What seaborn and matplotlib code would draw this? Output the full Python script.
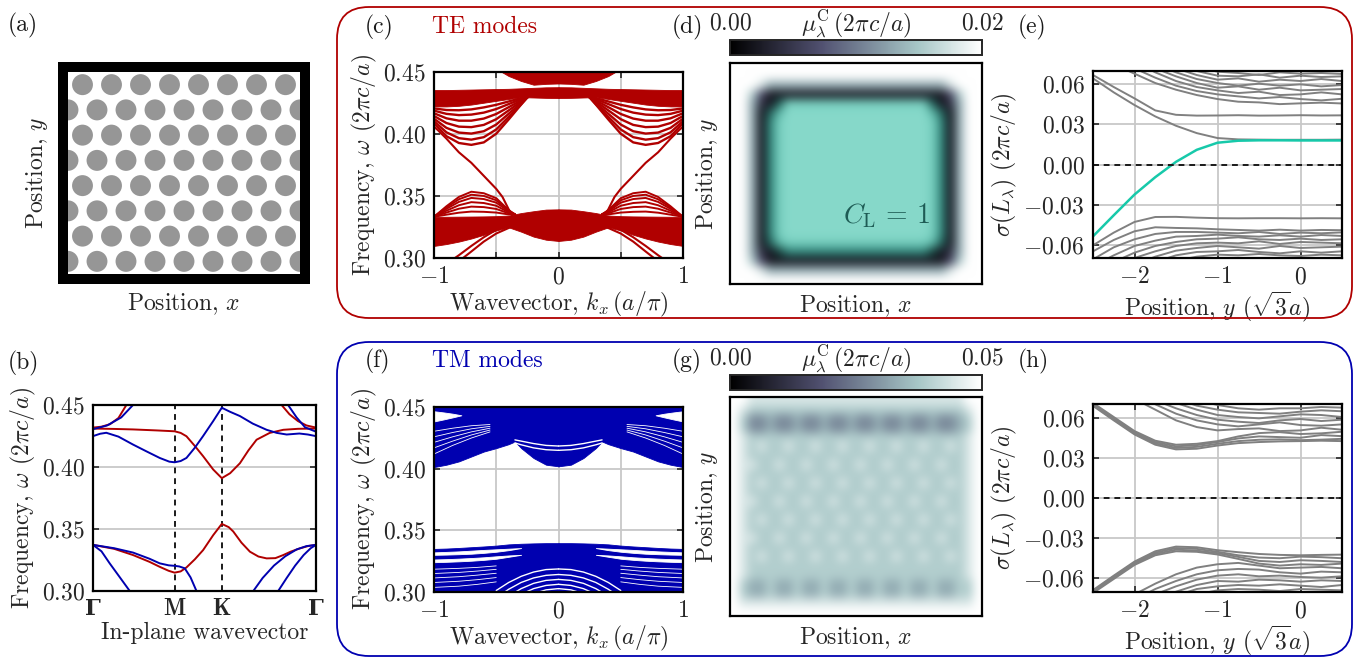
import numpy as np
import pandas as pd
import matplotlib.pyplot as plt
import seaborn as sns
from matplotlib.patches import Circle, FancyBboxPatch
from matplotlib.colors import LinearSegmentedColormap, Normalize
from matplotlib.cm import ScalarMappable

# %%
# ---------------- data ----------------
RED = "#b00000"
BLUE = "#0000b0"
TEAL = "#17c9aa"
GRAY = "#808080"

# (a) lattice
n_rows, n_cols = 8, 8
hole_radius = 0.36

# (b) bulk bands along Gamma-M-K-Gamma (path length units)
bz_ticks = [0.0, 0.5774, 0.9107, 1.5774]
bz_labels = ["Γ", r"$\mathbf{M}$", r"$\mathbf{K}$", "Γ"]

te_low_x = [0, 0.15, 0.283, 0.40, 0.472, 0.535, 0.577, 0.62, 0.661, 0.72, 0.779, 0.85, 0.911,
            0.96, 0.992, 1.05, 1.11, 1.17, 1.228, 1.29, 1.346, 1.40, 1.464, 1.52, 1.577]
te_low_y = [0.3372, 0.334, 0.329, 0.3235, 0.3195, 0.3163, 0.3148, 0.3158, 0.319, 0.3255, 0.333,
            0.345, 0.3541, 0.3515, 0.348, 0.339, 0.3317, 0.3278, 0.3263, 0.3265, 0.329, 0.3318,
            0.3344, 0.3362, 0.3372]
te_up_x = [0, 0.15, 0.283, 0.45, 0.577, 0.62, 0.661, 0.72, 0.779, 0.85, 0.911, 0.97, 1.039,
           1.10, 1.157, 1.25, 1.346, 1.45, 1.577]
te_up_y = [0.431, 0.4307, 0.4303, 0.4295, 0.4288, 0.4275, 0.4248, 0.417, 0.4087, 0.398, 0.391,
           0.395, 0.403, 0.4135, 0.422, 0.4275, 0.430, 0.4308, 0.431]
te_topl_x = [0, 0.06, 0.12, 0.18, 0.236, 0.26]
te_topl_y = [0.4318, 0.4325, 0.4345, 0.4395, 0.45, 0.455]
te_topr_x = [1.31, 1.334, 1.39, 1.45, 1.51, 1.577]
te_topr_y = [0.454, 0.45, 0.4425, 0.437, 0.4335, 0.4318]

tm_up_x = [0, 0.05, 0.094, 0.18, 0.283, 0.38, 0.472, 0.54, 0.577, 0.62, 0.661, 0.72, 0.779,
           0.85, 0.911, 0.97, 1.039, 1.13, 1.228, 1.30, 1.37, 1.46, 1.52, 1.577]
tm_up_y = [0.4249, 0.4268, 0.4276, 0.4245, 0.4181, 0.4125, 0.4073, 0.4043, 0.4038, 0.4048,
           0.4073, 0.4155, 0.425, 0.437, 0.4478, 0.4445, 0.4411, 0.435, 0.430, 0.4275, 0.4262,
           0.427, 0.4262, 0.4249]
tm_low_x = [0, 0.15, 0.283, 0.40, 0.472, 0.535, 0.577, 0.61, 0.649, 0.69, 0.732, 0.76]
tm_low_y = [0.3372, 0.3345, 0.331, 0.326, 0.3223, 0.3207, 0.3203, 0.3198, 0.3183, 0.311, 0.30, 0.292]
tm_gl_x = [0, 0.06, 0.118, 0.19, 0.26, 0.29]
tm_gl_y = [0.3372, 0.332, 0.3223, 0.311, 0.30, 0.295]
tm_r1_x = [1.10, 1.134, 1.20, 1.28, 1.36, 1.44, 1.51, 1.577]
tm_r1_y = [0.2945, 0.30, 0.3105, 0.3205, 0.328, 0.3335, 0.3362, 0.3372]
tm_r2_x = [1.28, 1.31, 1.37, 1.43, 1.49, 1.54, 1.577]
tm_r2_y = [0.2955, 0.30, 0.3105, 0.3205, 0.329, 0.3345, 0.3372]
tm_topl_x = [0, 0.1, 0.2, 0.283, 0.31]
tm_topl_y = [0.4305, 0.4335, 0.440, 0.45, 0.453]
tm_topr_x = [1.36, 1.38, 1.44, 1.50, 1.577]
tm_topr_y = [0.455, 0.45, 0.440, 0.432, 0.4285]

# (c) TE ribbon bands, k >= 0 (bands are symmetric in k)
kc = [0, 0.1, 0.2, 0.3, 0.4, 0.5, 0.6, 0.7, 0.8, 0.9, 1.0]
te_blk_top = [0.4375, 0.4374, 0.4370, 0.4366, 0.4362, 0.4360, 0.4358, 0.4356, 0.4354, 0.4352, 0.4352]
te_blk_bot = [0.4288, 0.4289, 0.4292, 0.4295, 0.4280, 0.4265, 0.4250, 0.4235, 0.4225, 0.4220, 0.4220]
kt = [0, 0.1, 0.2, 0.3, 0.4, 0.46]
te_top_lo = [0.4405, 0.4402, 0.4395, 0.4425, 0.4465, 0.4500]
kfan = [0.25, 0.3, 0.4, 0.5, 0.6, 0.7, 0.8, 0.9, 1.0]
te_fan_lo = [0.4293, 0.4235, 0.4115, 0.4000, 0.3930, 0.3910, 0.3925, 0.3980, 0.4083]
te_fan_lines = [
    [0.4293, 0.4287, 0.4260, 0.4233, 0.4212, 0.4196, 0.4189, 0.4191, 0.4204],
    [0.4293, 0.4279, 0.4239, 0.4199, 0.4170, 0.4154, 0.4150, 0.4160, 0.4186],
    [0.4293, 0.4269, 0.4214, 0.4159, 0.4122, 0.4105, 0.4105, 0.4124, 0.4165],
    [0.4293, 0.4259, 0.4188, 0.4117, 0.4071, 0.4053, 0.4057, 0.4086, 0.4143],
    [0.4293, 0.4248, 0.4161, 0.4074, 0.4020, 0.4001, 0.4009, 0.4047, 0.4121],
    [0.4293, 0.4238, 0.4136, 0.4034, 0.3972, 0.3952, 0.3964, 0.4011, 0.4101],
]
ke = [0.37, 0.4, 0.45, 0.5, 0.6, 0.7, 0.8, 0.9, 0.97, 1.0]
te_edge = [0.334, 0.339, 0.349, 0.3555, 0.366, 0.3765, 0.385, 0.396, 0.403, 0.4056]
te_lo_top = [0.3390, 0.3388, 0.3375, 0.3360, 0.3340, 0.3335, 0.3333, 0.3332, 0.3331, 0.3330, 0.3330]
te_lo_bot = [0.3135, 0.3145, 0.3170, 0.3210, 0.3245, 0.3220, 0.3185, 0.3155, 0.3130, 0.3110, 0.3095]
klf = [0.35, 0.4, 0.5, 0.6, 0.7, 0.8, 0.9, 1.0]
te_lfan_lines = [
    [0.3350, 0.3349, 0.3364, 0.3370, 0.3372, 0.3363, 0.3347, 0.3330],
    [0.3350, 0.3358, 0.3393, 0.3408, 0.3412, 0.3395, 0.3364, 0.3330],
    [0.3350, 0.3366, 0.3419, 0.3441, 0.3448, 0.3423, 0.3379, 0.3330],
    [0.3350, 0.3373, 0.3444, 0.3473, 0.3482, 0.3450, 0.3394, 0.3330],
    [0.3350, 0.3379, 0.3463, 0.3498, 0.3508, 0.3471, 0.3405, 0.3330],
    [0.3350, 0.3384, 0.3480, 0.3520, 0.3532, 0.3490, 0.3415, 0.3330],
]
ka1 = [0.42, 0.5, 0.6, 0.7, 0.8, 0.85]
te_arc1 = [0.3263, 0.3225, 0.3165, 0.3095, 0.3020, 0.2985]
ka2 = [0.39, 0.5, 0.6, 0.7, 0.77, 0.8]
te_arc2 = [0.3244, 0.3195, 0.3130, 0.3050, 0.2995, 0.2970]

# (f) TM ribbon bands, k >= 0
kfm = [0, 0.1, 0.2, 0.3, 0.35, 0.4, 0.5, 0.6, 0.7, 0.8, 0.9, 1.0]
tm_up_bot = [0.4020, 0.4033, 0.4087, 0.4168, 0.4222, 0.4200, 0.4168, 0.4140, 0.4100, 0.4060, 0.4033, 0.4014]
kw = [0.78, 0.85, 0.92, 1.0]
tm_wedge_lo = [0.4435, 0.4418, 0.4402, 0.4385]
tm_wedge_hi = [0.4435, 0.4448, 0.4458, 0.4468]
kar = [0, 0.1, 0.2, 0.3, 0.35]
tm_gap_arcs = [
    [0.4185, 0.4190, 0.4205, 0.4225, 0.4235],
    [0.4150, 0.4155, 0.4170, 0.4195, 0.4210],
]
kst = [0.55, 0.7, 0.85, 1.0]
tm_up_streaks = [
    [0.4300, 0.4250, 0.4190, 0.4120],
    [0.4315, 0.4275, 0.4225, 0.4170],
    [0.4330, 0.4300, 0.4260, 0.4215],
    [0.4345, 0.4325, 0.4295, 0.4260],
    [0.4360, 0.4350, 0.4330, 0.4305],
]
tm_lo_top = [0.3395, 0.3395, 0.3393, 0.3390, 0.3385, 0.3375, 0.3368, 0.3362, 0.3356, 0.3351, 0.3348]
kg = [0.3, 0.4, 0.5, 0.6, 0.7, 0.8, 0.9, 1.0]
tm_g1_lo = [0.3355, 0.3338, 0.3325, 0.3316, 0.3309, 0.3305, 0.3302, 0.3300]
tm_g1_hi = [0.3355, 0.3350, 0.3345, 0.3340, 0.3334, 0.3328, 0.3324, 0.3320]
tm_g2_lo = [0.3300, 0.3284, 0.3268, 0.3259, 0.3252, 0.3247, 0.3243, 0.3240]
tm_g2_hi = [0.3300, 0.3295, 0.3288, 0.3280, 0.3274, 0.3269, 0.3265, 0.3262]
kb = [0, 0.1, 0.2, 0.3, 0.4, 0.5]
tm_bottom_arcs = [
    [0.3185, 0.3180, 0.3160, 0.3125, 0.3075, 0.3010],
    [0.3140, 0.3133, 0.3112, 0.3075, 0.3020, 0.2950],
    [0.3100, 0.3092, 0.3068, 0.3025, 0.2965, 0.2890],
    [0.3060, 0.3051, 0.3025, 0.2980, 0.2915, 0.2830],
    [0.3025, 0.3015, 0.2985, 0.2935, 0.2870, 0.2790],
]
kls = [0.5, 0.65, 0.8, 1.0]
tm_lo_streaks = [
    [0.3080, 0.3060, 0.3045, 0.3035],
    [0.3115, 0.3098, 0.3085, 0.3075],
    [0.3150, 0.3135, 0.3122, 0.3112],
    [0.3182, 0.3168, 0.3157, 0.3148],
    [0.3210, 0.3198, 0.3190, 0.3183],
]

# (d), (g) local gap maps: digit = C_L 0 (bone level 0..9), letter = C_L 1 (teal level a..j)
te_map_max = 0.02
te_map_rows = [
    "9" * 28,
    "9" * 28,
    "9998" + "6" * 20 + "8999",
    "9973" + "1" * 20 + "3799",
    "9962" + "1d" + "h" * 16 + "d1" + "2699",
    "9961d" + "g" + "i" * 16 + "g" + "d1699",
    "9961eh" + "i" * 16 + "he1699",
    "9961eh" + "i" * 16 + "he1699",
    "9961eh" + "i" * 16 + "he1699",
    "9961eh" + "i" * 16 + "he1699",
    "9961eh" + "i" * 16 + "he1699",
    "9961eh" + "i" * 16 + "he1699",
    "9961eh" + "i" * 16 + "he1699",
    "9961eh" + "i" * 16 + "he1699",
    "9961eh" + "i" * 16 + "he1699",
    "9961eh" + "i" * 16 + "he1699",
    "9961eh" + "i" * 16 + "he1699",
    "9961eh" + "i" * 16 + "he1699",
    "9961eh" + "i" * 16 + "he1699",
    "9961dg" + "h" * 16 + "gd1699",
    "9962" + "1c" + "e" * 16 + "c1" + "2699",
    "9973" + "1" * 20 + "3799",
    "9998" + "6" * 20 + "8999",
    "9" * 28,
]
tm_map_max = 0.05
tm_map_rows = [
    "99" + "8" * 24 + "99",
    "98" + "7" * 24 + "89",
    "97" + "556" * 7 + "55" + "679",
    "97" + "556" * 7 + "55" + "679",
    "98" + "7" * 24 + "89",
    "98" + "787" * 8 + "89",
    "98" + "7" * 24 + "89",
    "98" + "877" * 8 + "89",
    "98" + "7" * 24 + "89",
    "98" + "787" * 8 + "89",
    "98" + "7" * 24 + "89",
    "98" + "877" * 8 + "89",
    "98" + "7" * 24 + "89",
    "98" + "787" * 8 + "89",
    "98" + "7" * 24 + "89",
    "98" + "877" * 8 + "89",
    "98" + "7" * 24 + "89",
    "98" + "787" * 8 + "89",
    "98" + "7" * 24 + "89",
    "98" + "7" * 24 + "89",
    "97" + "667" * 8 + "79",
    "97" + "667" * 8 + "79",
    "98" + "8" * 24 + "89",
    "99" + "9" * 24 + "99",
]

# (e), (h) spectral localizer vs position
ys = [-2.5, -2.25, -2.0, -1.75, -1.5, -1.25, -1.0, -0.75, -0.5, -0.25, 0.0, 0.25, 0.5]
te_teal = [-0.0538, -0.038, -0.0225, -0.0095, 0.002, 0.011, 0.0163, 0.0178, 0.0181, 0.0181, 0.018, 0.018, 0.018]
te_sig = [
    [0.0645, 0.054, 0.0445, 0.036, 0.029, 0.0235, 0.0198, 0.0188, 0.0186, 0.0185, 0.0185, 0.0185, 0.0186],
    [0.067, 0.058, 0.0495, 0.0405, 0.0372, 0.0366, 0.0367, 0.0369, 0.0366, 0.0367, 0.0369, 0.0367, 0.0368],
    [0.08, 0.075, 0.068, 0.061, 0.056, 0.052, 0.049, 0.047, 0.0465, 0.0452, 0.0458, 0.0463, 0.0457],
    [0.085, 0.08, 0.072, 0.065, 0.059, 0.055, 0.0525, 0.051, 0.0495, 0.0505, 0.049, 0.048, 0.0492],
    [0.09, 0.085, 0.077, 0.069, 0.0625, 0.058, 0.0555, 0.0535, 0.0545, 0.052, 0.0525, 0.054, 0.0525],
    [0.095, 0.088, 0.079, 0.072, 0.066, 0.061, 0.0575, 0.0585, 0.056, 0.0575, 0.0555, 0.056, 0.0565],
    [0.10, 0.092, 0.083, 0.075, 0.069, 0.064, 0.061, 0.059, 0.0605, 0.059, 0.060, 0.0585, 0.0595],
    [0.105, 0.097, 0.088, 0.079, 0.072, 0.067, 0.0635, 0.0645, 0.062, 0.0635, 0.0625, 0.064, 0.0625],
    [0.11, 0.10, 0.092, 0.083, 0.076, 0.070, 0.0665, 0.066, 0.0675, 0.065, 0.0665, 0.0655, 0.066],
    [0.115, 0.105, 0.096, 0.087, 0.079, 0.073, 0.0695, 0.0685, 0.067, 0.069, 0.068, 0.0685, 0.0678],
    [-0.0605, -0.051, -0.043, -0.0393, -0.0392, -0.0398, -0.0402, -0.0403, -0.0402, -0.0402, -0.0403, -0.0402, -0.0403],
    [-0.065, -0.0565, -0.050, -0.047, -0.0475, -0.0478, -0.0485, -0.049, -0.0495, -0.0488, -0.0495, -0.049, -0.0492],
    [-0.071, -0.062, -0.056, -0.052, -0.0505, -0.0505, -0.051, -0.0515, -0.0505, -0.052, -0.051, -0.0515, -0.0508],
    [-0.076, -0.068, -0.061, -0.057, -0.054, -0.0535, -0.0525, -0.0535, -0.054, -0.053, -0.054, -0.0528, -0.0535],
    [-0.081, -0.073, -0.066, -0.061, -0.058, -0.056, -0.0555, -0.0545, -0.056, -0.0565, -0.0555, -0.0565, -0.056],
    [-0.086, -0.078, -0.070, -0.065, -0.061, -0.059, -0.0585, -0.059, -0.0575, -0.0595, -0.058, -0.0585, -0.059],
    [-0.091, -0.083, -0.075, -0.069, -0.0645, -0.0625, -0.061, -0.062, -0.063, -0.061, -0.0625, -0.062, -0.0615],
    [-0.096, -0.088, -0.079, -0.073, -0.068, -0.0655, -0.065, -0.064, -0.0655, -0.0665, -0.065, -0.066, -0.065],
    [-0.10, -0.092, -0.083, -0.077, -0.072, -0.069, -0.0675, -0.068, -0.067, -0.068, -0.0685, -0.0675, -0.068],
]
tm_sig = [
    [0.0688, 0.058, 0.0475, 0.0398, 0.0363, 0.0368, 0.0392, 0.041, 0.0418, 0.0423, 0.0425, 0.0428, 0.0425],
    [0.0695, 0.0588, 0.0484, 0.0408, 0.0374, 0.0382, 0.0405, 0.0425, 0.0435, 0.0438, 0.0432, 0.0436, 0.0442],
    [0.0702, 0.0596, 0.0492, 0.0418, 0.0386, 0.0395, 0.0418, 0.0445, 0.046, 0.0455, 0.045, 0.047, 0.0462],
    [0.071, 0.0605, 0.050, 0.0428, 0.0398, 0.0405, 0.0425, 0.046, 0.0485, 0.0492, 0.0478, 0.0483, 0.0495],
    [0.09, 0.082, 0.074, 0.066, 0.058, 0.053, 0.0505, 0.0515, 0.052, 0.050, 0.0505, 0.0525, 0.051],
    [0.095, 0.086, 0.078, 0.070, 0.063, 0.058, 0.055, 0.0535, 0.055, 0.0565, 0.0545, 0.054, 0.055],
    [0.10, 0.09, 0.081, 0.073, 0.067, 0.062, 0.0585, 0.057, 0.056, 0.058, 0.059, 0.0575, 0.0585],
    [0.105, 0.095, 0.085, 0.077, 0.071, 0.066, 0.062, 0.0605, 0.0595, 0.061, 0.0625, 0.062, 0.0605],
    [0.11, 0.10, 0.09, 0.081, 0.074, 0.069, 0.066, 0.064, 0.0635, 0.063, 0.0645, 0.0655, 0.0648],
    [0.115, 0.105, 0.095, 0.085, 0.078, 0.073, 0.0695, 0.067, 0.066, 0.067, 0.067, 0.068, 0.0675],
    [-0.0688, -0.058, -0.0475, -0.0398, -0.0363, -0.0368, -0.039, -0.0405, -0.0418, -0.0425, -0.0428, -0.0425, -0.0423],
    [-0.0695, -0.0588, -0.0484, -0.0408, -0.0374, -0.038, -0.0402, -0.0428, -0.0445, -0.045, -0.0438, -0.0442, -0.045],
    [-0.0702, -0.0596, -0.0492, -0.0418, -0.0386, -0.0393, -0.0412, -0.044, -0.047, -0.0478, -0.0465, -0.047, -0.0478],
    [-0.071, -0.0605, -0.050, -0.0428, -0.0398, -0.0402, -0.0422, -0.0455, -0.049, -0.0505, -0.0495, -0.050, -0.049],
    [-0.09, -0.081, -0.072, -0.064, -0.057, -0.052, -0.0495, -0.0485, -0.0505, -0.0525, -0.052, -0.0515, -0.0525],
    [-0.095, -0.085, -0.076, -0.068, -0.062, -0.057, -0.054, -0.053, -0.0535, -0.0555, -0.0565, -0.055, -0.0555],
    [-0.10, -0.09, -0.08, -0.072, -0.066, -0.061, -0.058, -0.057, -0.0585, -0.058, -0.059, -0.0595, -0.0585],
    [-0.105, -0.094, -0.084, -0.076, -0.070, -0.065, -0.062, -0.0625, -0.061, -0.0615, -0.0625, -0.0615, -0.062],
    [-0.11, -0.099, -0.089, -0.080, -0.073, -0.068, -0.066, -0.065, -0.0655, -0.0645, -0.0655, -0.0665, -0.065],
    [-0.115, -0.104, -0.093, -0.084, -0.077, -0.072, -0.069, -0.068, -0.0685, -0.0695, -0.068, -0.0685, -0.069],
]

# %%
sns.set_theme(style="ticks")
FS = 17
plt.rcParams["font.family"] = "serif"
plt.rcParams["font.serif"] = ["cmr10"]
plt.rcParams["mathtext.fontset"] = "cm"
plt.rcParams["axes.formatter.use_mathtext"] = True
plt.rcParams["font.size"] = FS
plt.rcParams["axes.labelsize"] = FS
plt.rcParams["xtick.labelsize"] = FS
plt.rcParams["ytick.labelsize"] = FS

W, H = 1354, 658
fig = plt.figure(figsize=(W / 100, H / 100), dpi=100)


def px_rect(x0, y0, x1, y1):
    return [x0 / W, 1 - y1 / H, (x1 - x0) / W, (y1 - y0) / H]


def style_axes(ax):
    ax.tick_params(direction="in", length=4, width=1.2, top=True, right=True, pad=6)
    for s in ax.spines.values():
        s.set_linewidth(1.6)
        s.set_color("black")
    ax.set_axisbelow(True)
    ax.grid(True, color="#c8c8c8", lw=1.3)


def draw_lines(ax, xs_list, ys_list, color, lw, mirror=False):
    parts = []
    for i, (x, y) in enumerate(zip(xs_list, ys_list)):
        x = np.asarray(x, float)
        parts.append(pd.DataFrame({"x": x, "y": y, "unit": f"{i}p"}))
        if mirror:
            parts.append(pd.DataFrame({"x": -x, "y": y, "unit": f"{i}m"}))
    df = pd.concat(parts, ignore_index=True)
    sns.lineplot(data=df, x="x", y="y", units="unit", estimator=None, sort=False,
                 color=color, lw=lw, ax=ax, legend=False)


def fill_sym(ax, k, lo, hi, color):
    k = np.asarray(k, float)
    for kk in (k, -k):
        ax.fill_between(kk, lo, hi, color=color, lw=0.6, edgecolor=color)


def map_rgba(rows, teal_cmap):
    bone = plt.get_cmap("bone")
    img = np.zeros((len(rows), len(rows[0]), 4))
    for i, row in enumerate(rows):
        for j, ch in enumerate(row):
            if ch.isdigit():
                img[i, j] = bone(int(ch) / 9)
            else:
                img[i, j] = teal_cmap((ord(ch) - ord("a")) / 9)
    return img


# %% (a) lattice
ax = fig.add_axes(px_rect(63, 67, 305, 279))
row_h = np.sqrt(3) / 2
for i in range(n_rows):
    offset = 0.5 if (n_rows - 1 - i) % 2 == 0 else 0.0
    cols = np.arange(n_cols + (1 if offset == 0 else 0)) + offset
    for c in cols:
        ax.add_patch(Circle((c, (i + 0.5) * row_h), hole_radius, color="#969696", lw=0))
ax.set_xlim(-5 / 29, n_cols + 5 / 29)
ax.set_ylim(-5 / 29, n_rows * row_h + 5 / 29)
ax.set_xticks([])
ax.set_yticks([])
for s in ax.spines.values():
    s.set_linewidth(7.2)
    s.set_color("black")
ax.set_xlabel("Position, $x$", labelpad=9)
ax.set_ylabel("Position, $y$", labelpad=9)

# %% (b) bulk bands
ax = fig.add_axes(px_rect(93, 405, 316, 591))
style_axes(ax)
ax.grid(False)
ax.grid(True, axis="y", color="#c8c8c8", lw=1.3)
for x in bz_ticks[1:3]:
    ax.axvline(x, color="k", ls=(0, (3, 2.5)), lw=1.4, zorder=1.5)
draw_lines(ax, [te_low_x, te_up_x, te_topl_x, te_topr_x],
           [te_low_y, te_up_y, te_topl_y, te_topr_y], RED, 1.4)
draw_lines(ax, [tm_up_x, tm_low_x, tm_gl_x, tm_r1_x, tm_r2_x, tm_topl_x, tm_topr_x],
           [tm_up_y, tm_low_y, tm_gl_y, tm_r1_y, tm_r2_y, tm_topl_y, tm_topr_y], BLUE, 1.4)
ax.set_xlim(0, bz_ticks[-1])
ax.set_ylim(0.30, 0.45)
ax.set_xticks(bz_ticks, bz_labels)
for lbl in ax.get_xticklabels():
    if lbl.get_text() == "Γ":
        lbl.set_fontfamily("DejaVu Serif")
        lbl.set_fontweight("bold")
        lbl.set_fontsize(FS - 1)
ax.set_yticks([0.30, 0.35, 0.40, 0.45], ["$0.30$", "$0.35$", "$0.40$", "$0.45$"])
ax.tick_params(axis="x", length=0, pad=5)
ax.set_xlabel("In-plane wavevector", labelpad=1)
ax.set_ylabel(r"Frequency, $\omega$ $(2\pi c/a)$", labelpad=3)

# %% (c) TE ribbon
ax = fig.add_axes(px_rect(434, 71.7, 683, 257.7))
style_axes(ax)
fill_sym(ax, kc, te_blk_bot, te_blk_top, RED)
fill_sym(ax, kt, te_top_lo, [0.46] * len(kt), RED)
fill_sym(ax, kc, te_lo_bot, te_lo_top, RED)
draw_lines(ax, [kfan] * (len(te_fan_lines) + 1), te_fan_lines + [te_fan_lo], RED, 1.7, mirror=True)
draw_lines(ax, [klf] * len(te_lfan_lines), te_lfan_lines, RED, 1.4, mirror=True)
draw_lines(ax, [ke, ka1, ka2], [te_edge, te_arc1, te_arc2], RED, 1.5, mirror=True)
ax.set_xlim(-1, 1)
ax.set_ylim(0.30, 0.45)
ax.set_xticks([-1, -0.5, 0, 0.5, 1], ["$-1$", "", "$0$", "", "$1$"])
ax.set_yticks([0.30, 0.35, 0.40, 0.45], ["$0.30$", "$0.35$", "$0.40$", "$0.45$"])
ax.set_xlabel(r"Wavevector, $k_x\,(a/\pi)$", labelpad=1)
ax.set_ylabel(r"Frequency, $\omega$ $(2\pi c/a)$", labelpad=3)

# %% (f) TM ribbon
ax = fig.add_axes(px_rect(434, 407.3, 683, 591.7))
style_axes(ax)
fill_sym(ax, kfm, tm_up_bot, [0.46] * len(kfm), BLUE)
fill_sym(ax, kw, tm_wedge_lo, tm_wedge_hi, "white")
draw_lines(ax, [kar] * len(tm_gap_arcs), tm_gap_arcs, "white", 1.0, mirror=True)
draw_lines(ax, [kst] * len(tm_up_streaks), tm_up_streaks, "white", 0.6, mirror=True)
fill_sym(ax, kc, [0.29] * len(kc), tm_lo_top, BLUE)
fill_sym(ax, kg, tm_g1_lo, tm_g1_hi, "white")
fill_sym(ax, kg, tm_g2_lo, tm_g2_hi, "white")
draw_lines(ax, [kb] * len(tm_bottom_arcs), tm_bottom_arcs, "white", 1.0, mirror=True)
draw_lines(ax, [kls] * len(tm_lo_streaks), tm_lo_streaks, "white", 0.6, mirror=True)
ax.set_xlim(-1, 1)
ax.set_ylim(0.30, 0.45)
ax.set_xticks([-1, -0.5, 0, 0.5, 1], ["$-1$", "", "$0$", "", "$1$"])
ax.set_yticks([0.30, 0.35, 0.40, 0.45], ["$0.30$", "$0.35$", "$0.40$", "$0.45$"])
ax.set_xlabel(r"Wavevector, $k_x\,(a/\pi)$", labelpad=1)
ax.set_ylabel(r"Frequency, $\omega$ $(2\pi c/a)$", labelpad=3)

# %% (d), (g) maps
teal_cmap = LinearSegmentedColormap.from_list(
    "teal", ["#050d0c", "#1a4f49", "#3a978a", "#74cdbd", "#95e2d4"])
cbar_label = r"$\mu^{\mathrm{C}}_{\lambda}\,(2\pi c/a)$"
for rows, vmax, img_box, cb_box, end_lbls in [
    (te_map_rows, te_map_max, (730, 62.7, 982, 284), (730, 40, 982, 55), ("$0.00$", "$0.02$")),
    (tm_map_rows, tm_map_max, (730, 396.7, 982, 616), (730, 375, 982, 390), ("$0.00$", "$0.05$")),
]:
    ax = fig.add_axes(px_rect(*img_box))
    ax.imshow(map_rgba(rows, teal_cmap), extent=(0, 1, 0, 1), aspect="auto",
              interpolation="bicubic")
    ax.set_xticks([])
    ax.set_yticks([])
    for s in ax.spines.values():
        s.set_linewidth(1.6)
        s.set_color("black")
    ax.set_xlabel("Position, $x$", labelpad=7)
    ax.set_ylabel("Position, $y$", labelpad=7)
    if rows is te_map_rows:
        ax.text(0.62, 0.31, r"$C_{\mathrm{L}}\, =\, 1$", transform=ax.transAxes,
                ha="center", va="center", fontsize=20, color="#1e5c55")
    cax = fig.add_axes(px_rect(*cb_box))
    cb = fig.colorbar(ScalarMappable(Normalize(0, vmax), plt.get_cmap("bone")),
                      cax=cax, orientation="horizontal")
    cb.outline.set_linewidth(1.4)
    cax.xaxis.set_ticks_position("top")
    cax.set_xticks([0, vmax / 2, vmax], [end_lbls[0], "", end_lbls[1]])
    cax.tick_params(axis="x", direction="in", length=3, width=1.2, pad=4,
                    top=True, bottom=False, labeltop=True, labelbottom=False)
    cax.annotate(cbar_label, (0.5, 1.0), xycoords="axes fraction", xytext=(0, 0),
                 textcoords="offset points", ha="center", va="bottom")

# %% (e), (h) localizer spectra
for box, sig, teal in [((1093, 71, 1342, 258), te_sig, te_teal),
                       ((1093, 404.3, 1342, 591.7), tm_sig, None)]:
    ax = fig.add_axes(px_rect(*box))
    style_axes(ax)
    draw_lines(ax, [ys] * len(sig), sig, GRAY, 1.4)
    if teal is not None:
        draw_lines(ax, [ys], [teal], TEAL, 1.8)
    ax.axhline(0, color="k", ls=(0, (3, 2.5)), lw=1.4)
    ax.set_xlim(-2.5, 0.5)
    ax.set_ylim(-0.07, 0.07)
    ax.set_xticks([-2, -1, 0], ["$-2$", "$-1$", "$0$"])
    ax.set_yticks([-0.06, -0.03, 0, 0.03, 0.06],
                  ["$-0.06$", "$-0.03$", "$0.00$", "$0.03$", "$0.06$"])
    ax.set_xlabel(r"Position, $y$ $(\sqrt{3}a)$", labelpad=1)
    ax.set_ylabel(r"$\sigma(L_{\lambda})$ $(2\pi c/a)$", labelpad=3)

# %% frames and panel labels
for (x0, y0, x1, y1), col in [((337, 7, 1352, 318), RED), ((337, 342, 1352, 656), BLUE)]:
    fig.add_artist(FancyBboxPatch((x0 / 100, (H - y1) / 100), (x1 - x0) / 100, (y1 - y0) / 100,
                                  boxstyle="round,pad=0,rounding_size=0.32",
                                  transform=fig.dpi_scale_trans, fill=False, ec=col, lw=1.3))

for s, x, y, col in [("(a)", 8, 25, "k"), ("(b)", 8, 363, "k"), ("(c)", 365, 27, "k"),
                     ("TE modes", 432, 27, RED), ("(d)", 672, 27, "k"), ("(e)", 1018, 27, "k"),
                     ("(f)", 365, 361, "k"), ("TM modes", 432, 361, BLUE), ("(g)", 672, 361, "k"),
                     ("(h)", 1018, 361, "k")]:
    fig.text(x / W, 1 - y / H, s, ha="left", va="center", color=col, fontsize=FS)

fig.savefig("out.png", dpi=100)
